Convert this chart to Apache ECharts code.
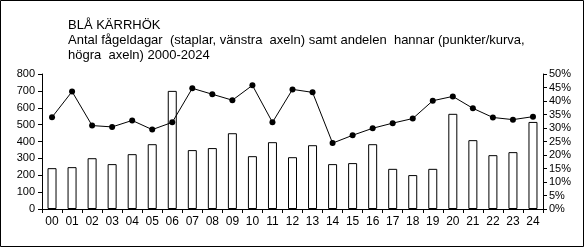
<!DOCTYPE html>
<html><head><meta charset="utf-8">
<script src="https://cdn.jsdelivr.net/npm/echarts@6/dist/echarts.min.js"></script>
<style>html,body{margin:0;padding:0;background:#fff}#c{width:586px;height:248px}</style>
</head><body><div id="c"></div>
<script>
const categories = ["00","01","02","03","04","05","06","07","08","09","10","11","12","13","14","15","16","17","18","19","20","21","22","23","24"];
const birdDays = [242,248,301,266,325,384,700,349,361,449,313,396,307,378,266,272,384,238,201,238,564,408,319,337,516];
const malePct = [34.0,43.5,30.9,30.4,32.8,29.4,32.1,44.7,42.5,40.3,45.8,32.1,44.3,43.2,24.4,27.3,29.9,31.8,33.5,40.1,41.7,37.3,33.9,33.1,34.2];
const leftTicks = {min:0,max:800,interval:100};
const rightTicks = {min:0,max:50,interval:5};
const titleLines = ["BLÅ KÄRRHÖK","Antal fågeldagar  (staplar, vänstra  axeln) samt andelen  hannar (punkter/kurva,","högra  axeln) 2000-2024"];

const font = '"Liberation Sans", Arial, sans-serif';
const chart = echarts.init(document.getElementById('c'));
chart.setOption({
  animation:false,
  backgroundColor:'#fff',
  title:{text:titleLines.join('\n'),left:63,top:13,textStyle:{fontFamily:font,fontSize:13,fontWeight:'normal',color:'#000',lineHeight:15}},
  graphic:[{type:'rect',shape:{x:0.5,y:0.5,width:583,height:246},style:{fill:null,stroke:'#000',lineWidth:1},silent:true}],
  grid:{left:42,right:43,top:74,bottom:39},
  xAxis:{type:'category',data:categories,boundaryGap:true,
    axisLine:{lineStyle:{color:'#000',width:1}},
    axisTick:{show:true,length:4,interval:0,lineStyle:{color:'#000'}},
    axisLabel:{fontFamily:font,fontSize:12,color:'#000',margin:7,interval:0}},
  yAxis:[
    {type:'value',min:leftTicks.min,max:leftTicks.max,interval:leftTicks.interval,
     axisLine:{show:true,lineStyle:{color:'#000'}},axisTick:{show:true,length:4,lineStyle:{color:'#000'}},
     splitLine:{show:false},axisLabel:{fontFamily:font,fontSize:11,color:'#000',margin:7}},
    {type:'value',min:rightTicks.min,max:rightTicks.max,interval:rightTicks.interval,position:'right',
     axisLine:{show:true,lineStyle:{color:'#000'}},axisTick:{show:true,length:4,lineStyle:{color:'#000'}},
     splitLine:{show:false},axisLabel:{fontFamily:font,fontSize:11,color:'#000',margin:6,formatter:'{value}%'}}
  ],
  series:[
    {type:'bar',data:birdDays,yAxisIndex:0,barWidth:9,itemStyle:{color:'#fff',borderColor:'#000',borderWidth:1}},
    {type:'line',data:malePct,yAxisIndex:1,symbol:'circle',symbolSize:6,
     lineStyle:{color:'#000',width:1},itemStyle:{color:'#000'}}
  ]
});
</script></body></html>
